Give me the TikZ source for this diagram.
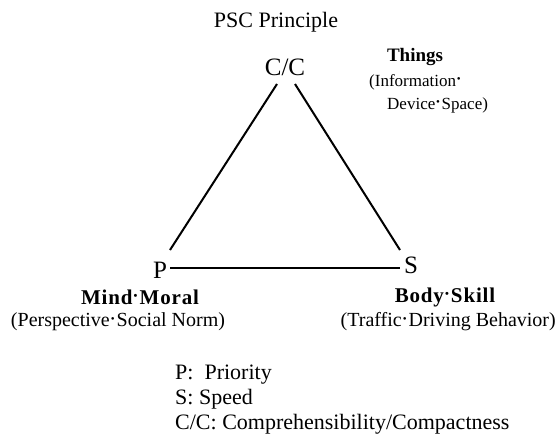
\documentclass[tikz,border=0pt]{standalone}
\usepackage{fontspec}
\setmainfont{Liberation Serif}
\newcommand{\jd}{\hspace{0.05em}\raisebox{0.45ex}{\fontsize{11}{11}\selectfont\textbullet}\hspace{0.1em}}
\begin{document}
\begin{tikzpicture}[x=1pt,y=-1pt,
  title/.style={inner sep=0pt, font=\fontsize{22}{26}\selectfont},
  lbl/.style={inner sep=0pt, font=\fontsize{25}{28}\selectfont},
  tsub/.style={inner sep=0pt, font=\fontsize{17}{20}\selectfont},
  tbold/.style={inner sep=0pt, font=\fontsize{19}{22}\selectfont\bfseries},
  sub/.style={inner sep=0pt, font=\fontsize{20}{24}\selectfont},
  subb/.style={inner sep=0pt, font=\fontsize{21}{24}\selectfont\bfseries\addfontfeatures{LetterSpace=4}},
  leg/.style={inner sep=0pt, anchor=base west, font=\fontsize{22}{25}\selectfont},
  edge/.style={line width=2pt}]
\useasboundingbox (0,0) rectangle (560,439);
\node[title] (title) at (276,22) {PSC Principle};
\node[lbl] (cc) at (285,67) {C/C};
\node[lbl] (p) at (160,270) {P};
\node[lbl] (s) at (411,265) {S};
\node[tbold] (things) at (415,57) {Things};
\node[tsub, anchor=west] (info) at (369,82) {(Information\jd};
\node[tsub, anchor=west] (dev) at (387,105) {Device\jd Space)};
\node[subb] (mind) at (140,297) {Mind\jd Moral};
\node[sub] (persp) at (118,322) {(Perspective\jd Social Norm)};
\node[subb] (body) at (445,297) {Body\jd Skill};
\node[sub, anchor=east] (traffic) at (556,322) {(Traffic\jd Driving Behavior)};
\node[leg] (lp) at (175,379) {P:\ \ Priority};
\node[leg] (ls) at (175,404) {S: Speed};
\node[leg] (lc) at (175,429) {C/C: Comprehensibility/Compactness};
\coordinate (a1) at (170,250);
\coordinate (a2) at (277,84);
\coordinate (b1) at (295,84);
\coordinate (b2) at (400,250);
\coordinate (c1) at (170,268);
\coordinate (c2) at (400,268);
\draw[edge] (a1) -- (a2);
\draw[edge] (b1) -- (b2);
\draw[edge] (c1) -- (c2);
\end{tikzpicture}
\end{document}
